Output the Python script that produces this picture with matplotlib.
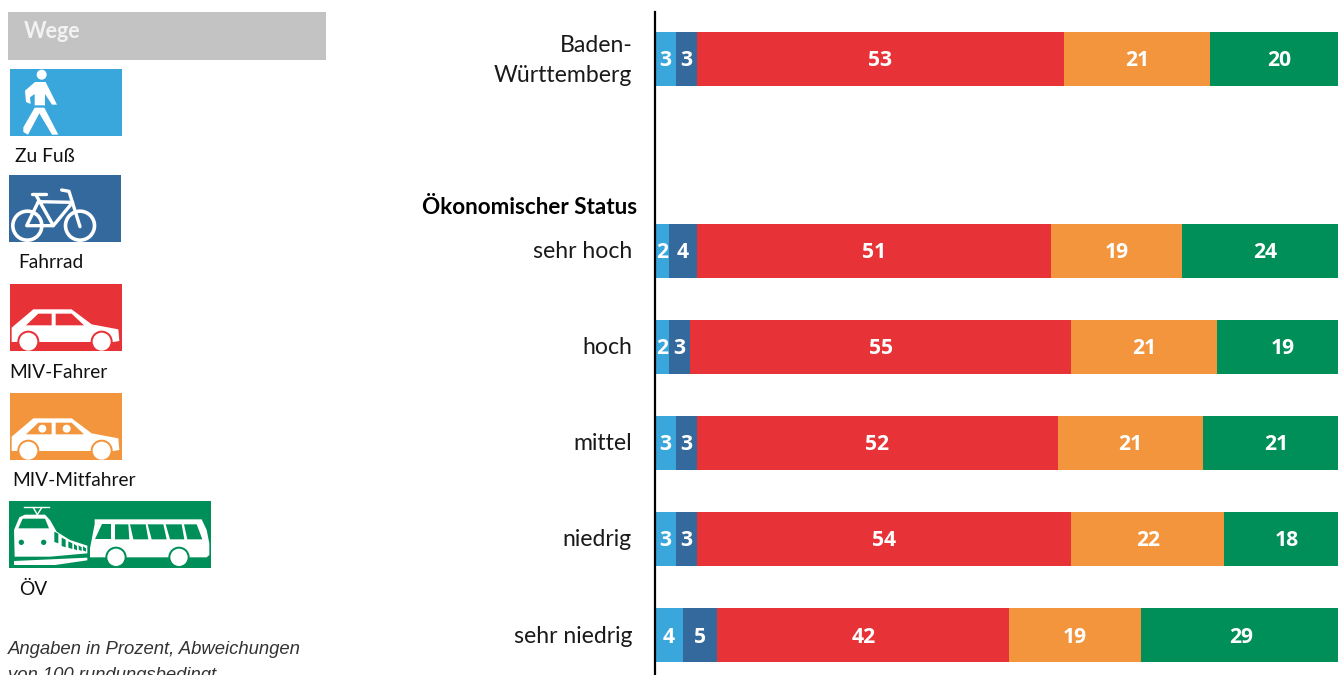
# -*- coding: utf-8 -*-
import matplotlib
matplotlib.use("Agg")
import matplotlib.pyplot as plt
from matplotlib.patches import Rectangle, Circle, Polygon
import numpy as np

W, H = 1338, 675

# data
categories = ["Baden-\nWürttemberg", "sehr hoch", "hoch", "mittel", "niedrig", "sehr niedrig"]
rows = [0, 2, 3, 4, 5, 6]
zu_fuss = [3, 2, 2, 3, 3, 4]
fahrrad = [3, 4, 3, 3, 3, 5]
miv_fahrer = [53, 51, 55, 52, 54, 42]
miv_mitfahrer = [21, 19, 21, 21, 22, 19]
oev = [20, 24, 19, 21, 18, 29]
series = [zu_fuss, fahrrad, miv_fahrer, miv_mitfahrer, oev]
colors = ["#39A6DC", "#33699D", "#E73338", "#F2953D", "#008F58"]
legend_labels = ["Zu Fuß", "Fahrrad", "MIV-Fahrer", "MIV-Mitfahrer", "ÖV"]

plt.rcParams["font.family"] = ["Lato", "DejaVu Sans"]
fig = plt.figure(figsize=(W / 100, H / 100), dpi=100)

# bar chart
left = 655
ax = fig.add_axes([left / W, 0, (W - left) / W, (H - 12) / H])
ax.set_xlim(0, (W - left) / 6.94)
row_h = 96.1
ax.set_ylim((H - 58.5) / row_h, (12 - 58.5) / row_h)

start = np.zeros(len(rows))
for vals, col in zip(series, colors):
    vals = np.array(vals)
    ax.barh(rows, vals, left=start, height=54 / row_h, color=col, linewidth=0)
    for r, s, v in zip(rows, start, vals):
        ax.text(s + v / 2, r + 0.02, str(v), ha="center", va="center", family="Open Sans",
                color="white", fontweight="bold", fontsize=15.2)
    start = start + vals

for s in ["top", "right", "bottom"]:
    ax.spines[s].set_visible(False)
ax.spines["left"].set_linewidth(1.6)
ax.spines["left"].set_color("black")
ax.set_xticks([])
ax.set_yticks([])
ax.set_zorder(2)

# overlay in pixel coordinates for the text and the icons
ov = fig.add_axes([0, 0, 1, 1])
ov.set_xlim(0, W)
ov.set_ylim(H, 0)
ov.axis("off")

for cat, r in zip(categories[1:], rows[1:]):
    ov.text(632, 58.5 + r * row_h + 1, cat, ha="right", va="center", fontsize=16.6, color="#1a1a1a")
ov.text(633, 45, "Baden-", ha="right", va="center", fontsize=16.6, color="#1a1a1a")
ov.text(632, 75, "Württemberg", ha="right", va="center", fontsize=16.6, color="#1a1a1a")
ov.text(637, 207, "Ökonomischer Status", ha="right", va="center", fontsize=16.2,
        fontweight="bold", color="black")

# legend
ov.add_patch(Rectangle((8, 12), 318, 48, color="#C2C3C2", lw=0))
ov.text(24, 32, "Wege", ha="left", va="center", fontsize=15.5, fontweight="bold", color="#F2F2F2")

label_pos = [(15, 156), (18, 263), (9, 372), (12, 481), (19, 589)]
for lab, (x, y) in zip(legend_labels, label_pos):
    ov.text(x, y, lab, ha="left", va="center", fontsize=13.8, color="#111111")

ov.text(8, 650, "Angaben in Prozent, Abweichungen", family="Liberation Sans", style="italic",
        fontsize=13.3, color="#333333", va="center", ha="left")
ov.text(8, 676, "von 100 rundungsbedingt", family="Liberation Sans", style="italic",
        fontsize=13.3, color="#333333", va="center", ha="left")


def z(pts, oy=0):
    return [(x / 3, oy + y / 3) for x, y in pts]


def poly(pts, col="white", oy=0):
    ov.add_patch(Polygon(z(pts, oy), closed=True, color=col, lw=0))


def disc(x, y, r, col="white", oy=0):
    ov.add_patch(Circle((x / 3, oy + y / 3), r / 3, color=col, lw=0))


# Zu Fuss
ov.add_patch(Rectangle((10, 69), 112, 67, color=colors[0], lw=0))
disc(125, 224, 15)
poly([(75, 272), (105, 246), (137, 246), (171, 314), (156, 314), (135, 282), (135, 316),
      (104, 316), (104, 282), (90, 292), (92, 312), (78, 306)])
poly([(104, 323), (133, 323), (175, 404), (156, 404), (118, 340), (84, 404), (70, 396), (70, 382)])

# Fahrrad
bike_bg = Rectangle((9, 175), 112, 67, color=colors[1], lw=0)
ov.add_patch(bike_bg)
wheels = [(82, 677), (240, 677)]
for wx, wy in wheels:
    c = Circle((wx / 3, wy / 3), 14.5, fill=False, ec="white", lw=2.6)
    ov.add_patch(c)
    c.set_clip_path(bike_bg)
frame = [[(95, 583), (138, 583)], [(108, 585), (160, 677), (218, 607), (115, 605)],
         [(115, 605), (80, 677), (160, 677)], [(185, 570), (207, 574), (240, 680)]]
for seg in frame:
    pts = np.array(z(seg))
    ov.plot(pts[:, 0], pts[:, 1], color="white", lw=2.4, solid_capstyle="round")


def car(oy, col, heads):
    # oy = pixel offset of the crop the outline was traced in
    ov.add_patch(Rectangle((10, oy + 39 / 3), 112, 67, color=col, lw=0))
    poly([(35, 170), (100, 115), (215, 115), (275, 160), (355, 175), (358, 210), (340, 213),
          (35, 213)], oy=oy)
    poly([(78, 163), (115, 128), (155, 128), (155, 163)], col, oy)
    poly([(167, 128), (215, 128), (252, 163), (167, 163)], col, oy)
    if heads:
        disc(127, 146, 12, oy=oy)
        disc(200, 146, 12, oy=oy)
    for wx in (85, 305):
        disc(wx, 212, 33, col, oy)
        disc(wx, 212, 27, oy=oy)
    # cover the part of the wheels hanging below the icon
    ov.add_patch(Rectangle((10, oy + 240 / 3), 112, 4, color="white", lw=0))


car(271, colors[2], False)
car(380, colors[3], True)

# OEV
oy = 380
ov.add_patch(Rectangle((9, 501), 202, 67, color=colors[4], lw=0))
pts = np.array(z([(72, 381), (146, 381)], oy))
ov.plot(pts[:, 0], pts[:, 1], color="white", lw=1)
pts = np.array(z([(100, 383), (112, 404), (125, 383)], oy))
ov.plot(pts[:, 0], pts[:, 1], color="white", lw=1)
poly([(44, 530), (42, 450), (58, 412), (75, 404), (135, 404), (150, 420), (170, 455), (210, 480),
      (262, 497), (262, 520), (150, 530)], oy=oy)
poly([(42, 543), (262, 533), (262, 541), (165, 555), (42, 555)], oy=oy)
poly([(55, 445), (68, 416), (135, 416), (147, 445)], colors[4], oy)
disc(64, 487, 8, colors[4], oy)
disc(131, 487, 8, colors[4], oy)
side = [(163, 455, 175, 490), (185, 473, 197, 502), (205, 484, 217, 507), (222, 492, 231, 511),
        (236, 496, 245, 513), (249, 499, 258, 515)]
for x0, y0, x1, y1 in side:
    poly([(x0, y0), (x1, y0 + 6), (x1, y1), (x0, y1 - 4)], colors[4], oy)
poly([(270, 505), (284, 432), (284, 418), (605, 418), (620, 450), (628, 490), (628, 525), (620, 532),
      (270, 532)], oy=oy)
bus_win = [[(305, 433), (333, 433), (333, 478), (285, 478)],
           [(345, 433), (385, 433), (388, 478), (345, 478)],
           [(390, 433), (437, 433), (445, 478), (400, 478)],
           [(443, 433), (490, 433), (500, 478), (455, 478)],
           [(497, 433), (545, 433), (553, 478), (510, 478)],
           [(552, 433), (590, 433), (607, 478), (562, 478)]]
for w in bus_win:
    poly(w, colors[4], oy)
for wx in (348, 537):
    disc(wx, 532, 32, colors[4], oy)
    disc(wx, 532, 26, oy=oy)
ov.add_patch(Rectangle((9, 568), 202, 6, color="white", lw=0))

fig.savefig("out.png", dpi=100)
